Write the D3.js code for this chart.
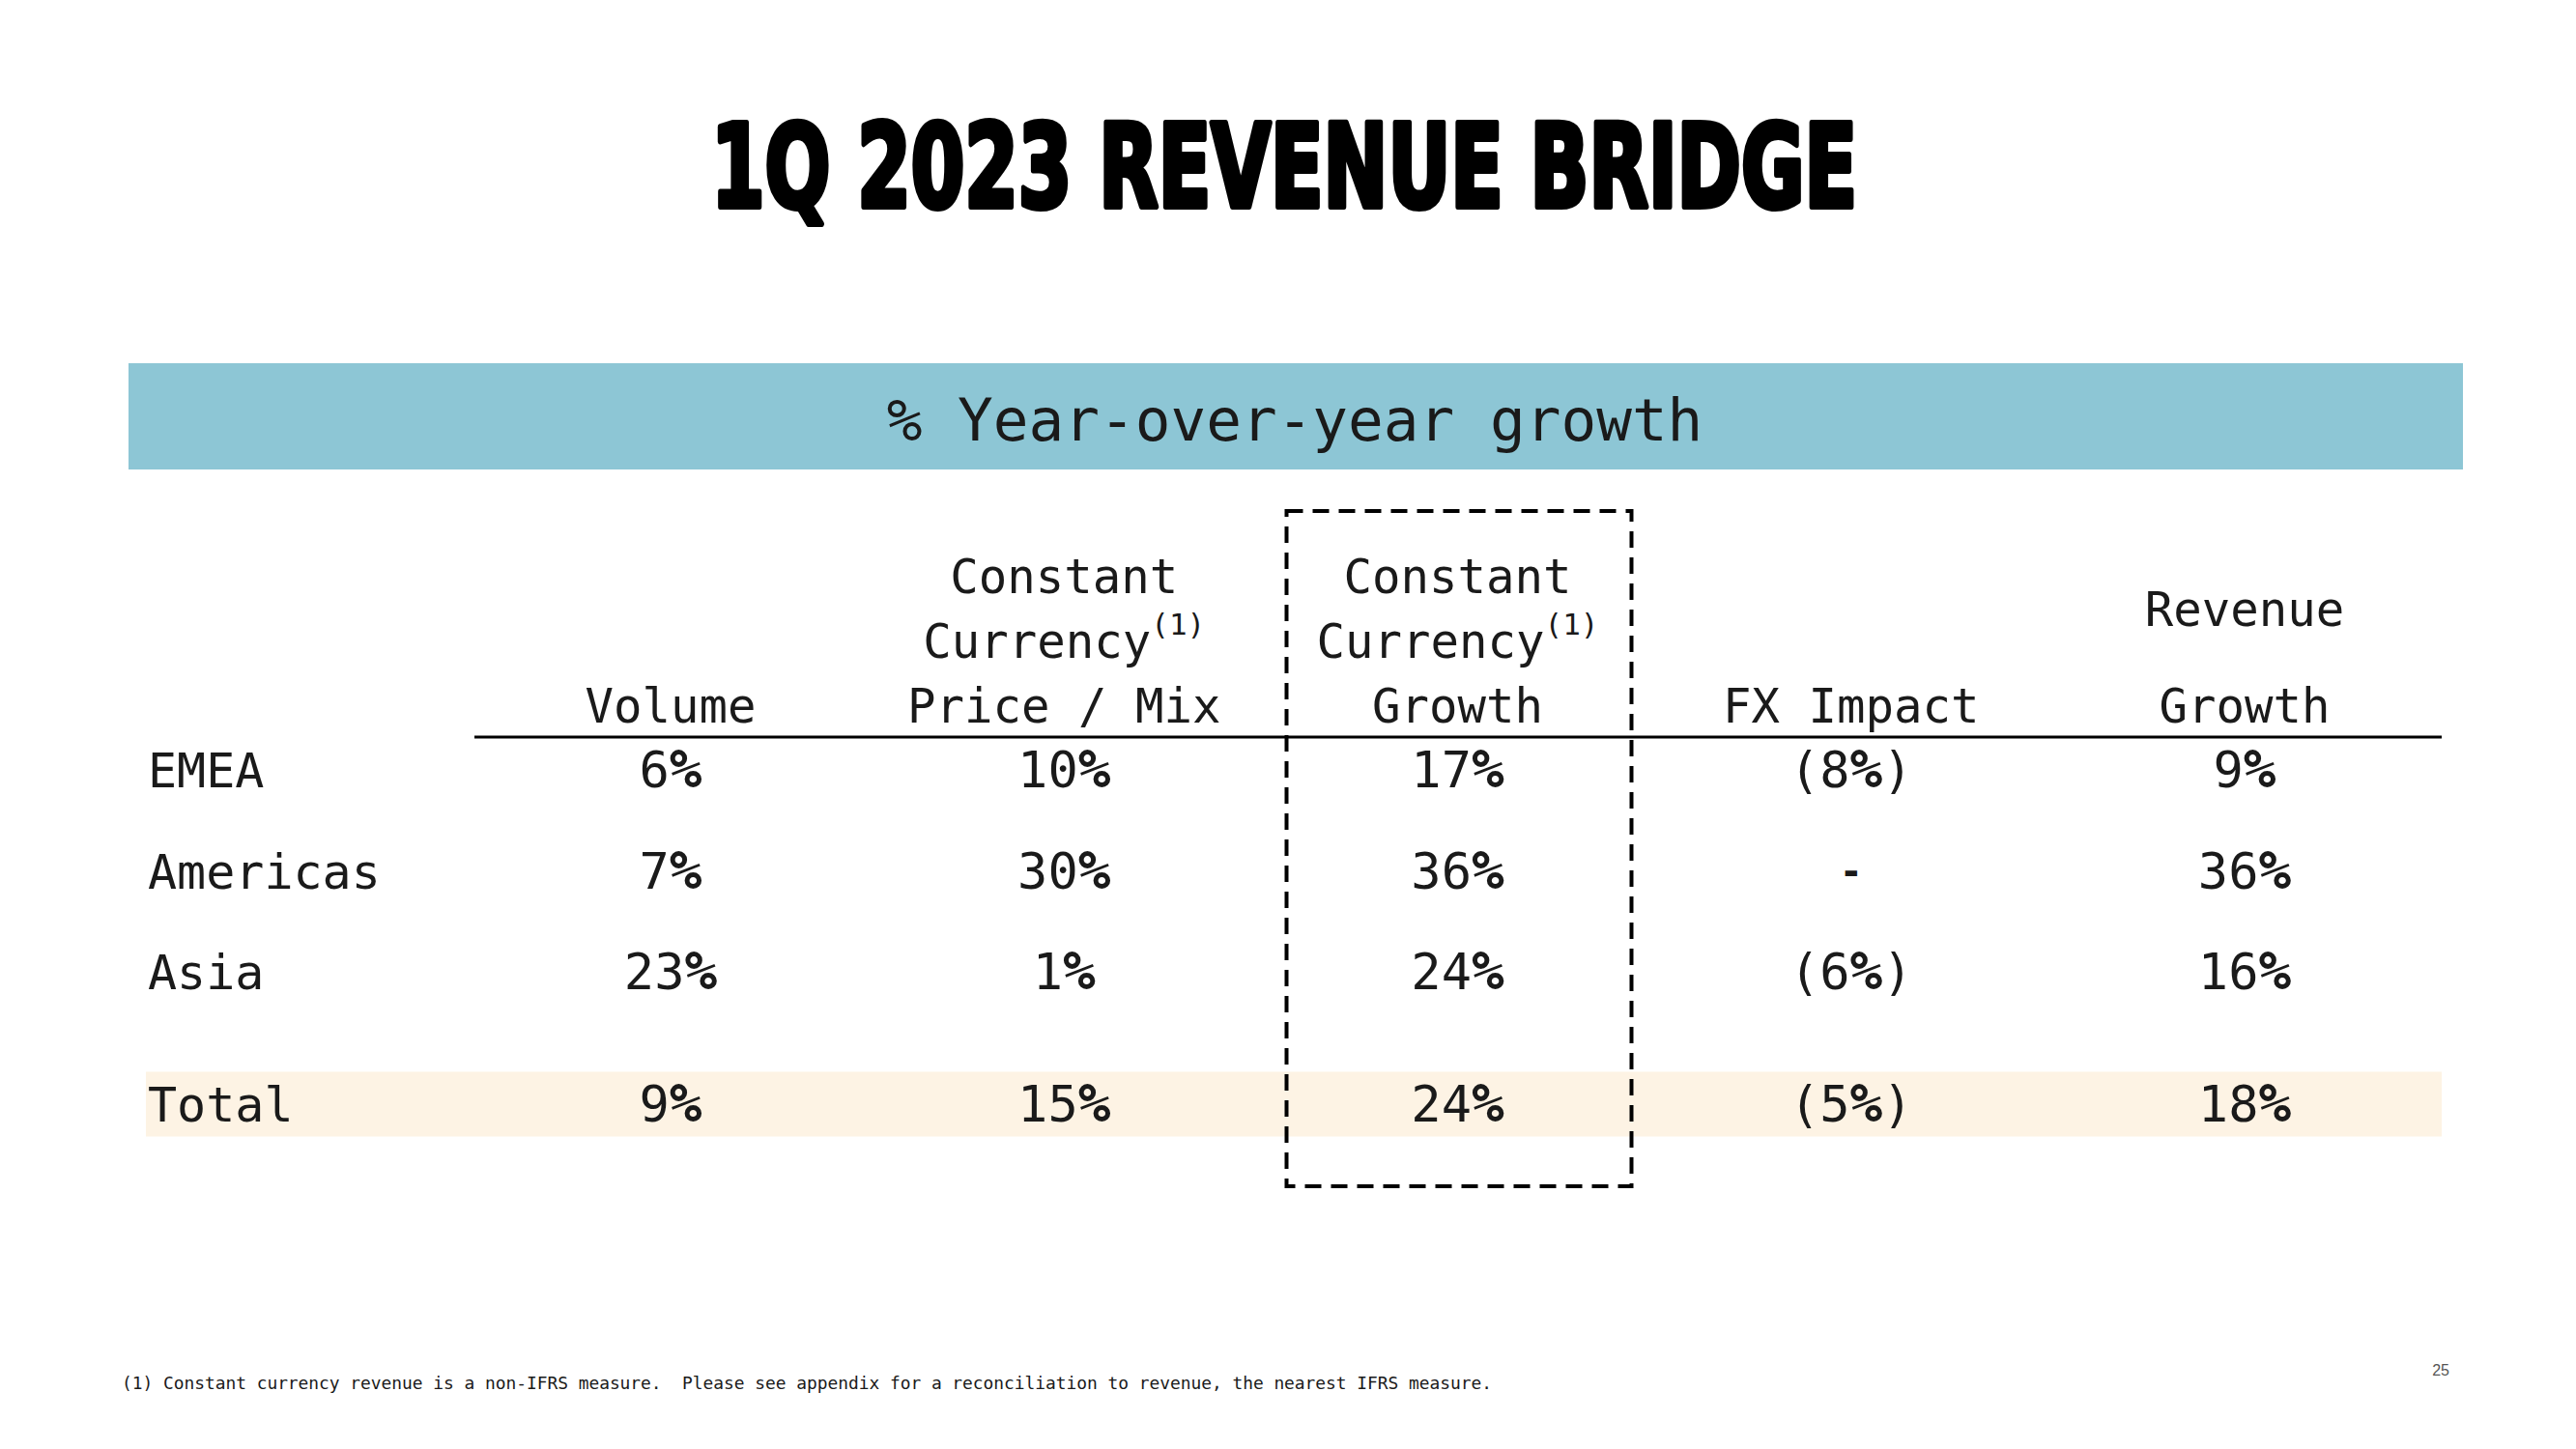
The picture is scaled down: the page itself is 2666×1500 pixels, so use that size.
<!DOCTYPE html>
<html>
<head>
<meta charset="utf-8">
<script src="https://cdn.jsdelivr.net/npm/d3@7"></script>
<style>
  html, body { margin: 0; padding: 0; background: #fff; }
  svg { display: block; }
</style>
</head>
<body>
<script>
// ---- Data ----
const title = "1Q 2023 REVENUE BRIDGE";
const bannerText = "% Year-over-year growth";
const regions = ["EMEA", "Americas", "Asia", "Total"];
const columnKeys = ["volume", "priceMix", "ccGrowth", "fxImpact", "revenueGrowth"];
const columnHeaders = [
  ["Volume"],
  ["Constant", "Currency|(1)", "Price / Mix"],
  ["Constant", "Currency|(1)", "Growth"],
  ["FX Impact"],
  ["Revenue", "Growth"]
];
const volume        = [6, 7, 23, 9];
const priceMix      = [10, 30, 1, 15];
const ccGrowth      = [17, 36, 24, 24];
const fxImpact      = [-8, 0, -6, -5];
const revenueGrowth = [9, 36, 16, 18];
const footnote = "(1) Constant currency revenue is a non-IFRS measure.  Please see appendix for a reconciliation to revenue, the nearest IFRS measure.";
const pageNumber = "25";

const series = { volume, priceMix, ccGrowth, fxImpact, revenueGrowth };

// ---- Layout ----
const W = 2666, H = 1500;
const mono = "'DejaVu Sans Mono', 'Liberation Mono', monospace";
const ink = "#1a1a1a";

const svg = d3.select("body").append("svg")
  .attr("width", W).attr("height", H)
  .attr("viewBox", `0 0 ${W} ${H}`);

svg.append("rect").attr("width", W).attr("height", H).attr("fill", "#fff");

// Title
svg.append("text")
  .attr("x", 1329).attr("y", 214)
  .attr("text-anchor", "middle")
  .attr("font-family", "'Liberation Sans Narrow', 'DejaVu Sans Condensed', 'Roboto', sans-serif")
  .attr("font-weight", 900)
  .attr("font-size", 120)
  .attr("textLength", 1186)
  .attr("lengthAdjust", "spacingAndGlyphs")
  .attr("fill", "#000")
  .attr("stroke", "#000").attr("stroke-width", 6).attr("stroke-linejoin", "round")
  .text(title);

// Banner
svg.append("rect")
  .attr("x", 133).attr("y", 376).attr("width", 2416).attr("height", 110)
  .attr("fill", "#8DC6D5");
svg.append("text")
  .attr("x", 1340).attr("y", 456)
  .attr("text-anchor", "middle")
  .attr("font-family", mono).attr("font-size", 61)
  .attr("fill", ink)
  .text(bannerText);

// Scales
const x = d3.scalePoint().domain(columnKeys).range([694, 2323]);
const rowIndex = d3.scaleLinear().domain([0, 1]).range([815, 919.5]);
const rowY = (i) => rowIndex(i) + (regions[i] === "Total" ? 32 : 0);

// Total row highlight
const totalIdx = regions.indexOf("Total");
svg.append("rect")
  .attr("x", 151).attr("width", 2376)
  .attr("y", rowY(totalIdx) - 51).attr("height", 67)
  .attr("fill", "#FDF3E4");

// Dashed box around CC growth column
svg.append("rect")
  .attr("x", x("ccGrowth") - 177).attr("width", 357)
  .attr("y", 529).attr("height", 699)
  .attr("fill", "none")
  .attr("stroke", "#000").attr("stroke-width", 4)
  .attr("stroke-dasharray", "17,10");

// Column headers
const headerBottom = 748;
columnKeys.forEach((key, ci) => {
  const lines = columnHeaders[ci];
  const gap = lines.length === 2 ? 100 : 67;
  lines.forEach((line, li) => {
    const y = headerBottom - (lines.length - 1 - li) * gap;
    const t = svg.append("text")
      .attr("x", x(key)).attr("y", y)
      .attr("text-anchor", "middle")
      .attr("font-family", mono).attr("font-size", 49)
      .attr("fill", ink);
    const parts = line.split("|");
    t.append("tspan").text(parts[0]);
    if (parts[1]) {
      t.append("tspan").attr("font-size", 31).attr("dy", -24).text(parts[1]);
    }
  });
});

// Header underline
svg.append("line")
  .attr("x1", 491).attr("x2", 2527)
  .attr("y1", 763).attr("y2", 763)
  .attr("stroke", "#000").attr("stroke-width", 3);

// Row labels
svg.selectAll("text.rowlabel").data(regions).join("text")
  .attr("class", "rowlabel")
  .attr("x", 153).attr("y", (d, i) => rowY(i))
  .attr("font-family", mono).attr("font-size", 50)
  .attr("fill", ink)
  .text(d => d);

// Values
const fmt = (v) => v === 0 ? null : (v < 0 ? { pre: "(" + Math.abs(v), post: ")" } : { pre: String(v), post: "" });
columnKeys.forEach((key) => {
  series[key].forEach((v, ri) => {
    const t = svg.append("text")
      .attr("x", x(key)).attr("y", rowY(ri))
      .attr("text-anchor", "middle")
      .attr("font-family", mono).attr("font-size", 52)
      .attr("fill", ink);
    const f = fmt(v);
    if (!f) {
      t.attr("font-weight", "bold").attr("font-size", 40).attr("y", rowY(ri) - 4).text("-");
      return;
    }
    t.append("tspan").text(f.pre);
    t.append("tspan").attr("font-weight", "bold").attr("font-size", 56).text("%");
    if (f.post) t.append("tspan").text(f.post);
  });
});

// Footnote
svg.append("text")
  .attr("x", 126).attr("y", 1438)
  .attr("font-family", mono).attr("font-size", 17.9)
  .attr("fill", ink)
  .attr("textLength", 1418)
  .attr("xml:space", "preserve")
  .style("white-space", "pre")
  .text(footnote);

// Page number
svg.append("text")
  .attr("x", 2535).attr("y", 1424)
  .attr("text-anchor", "end")
  .attr("font-family", "'Liberation Sans', Arial, sans-serif").attr("font-size", 16)
  .attr("fill", "#555")
  .text(pageNumber);
</script>
</body>
</html>
